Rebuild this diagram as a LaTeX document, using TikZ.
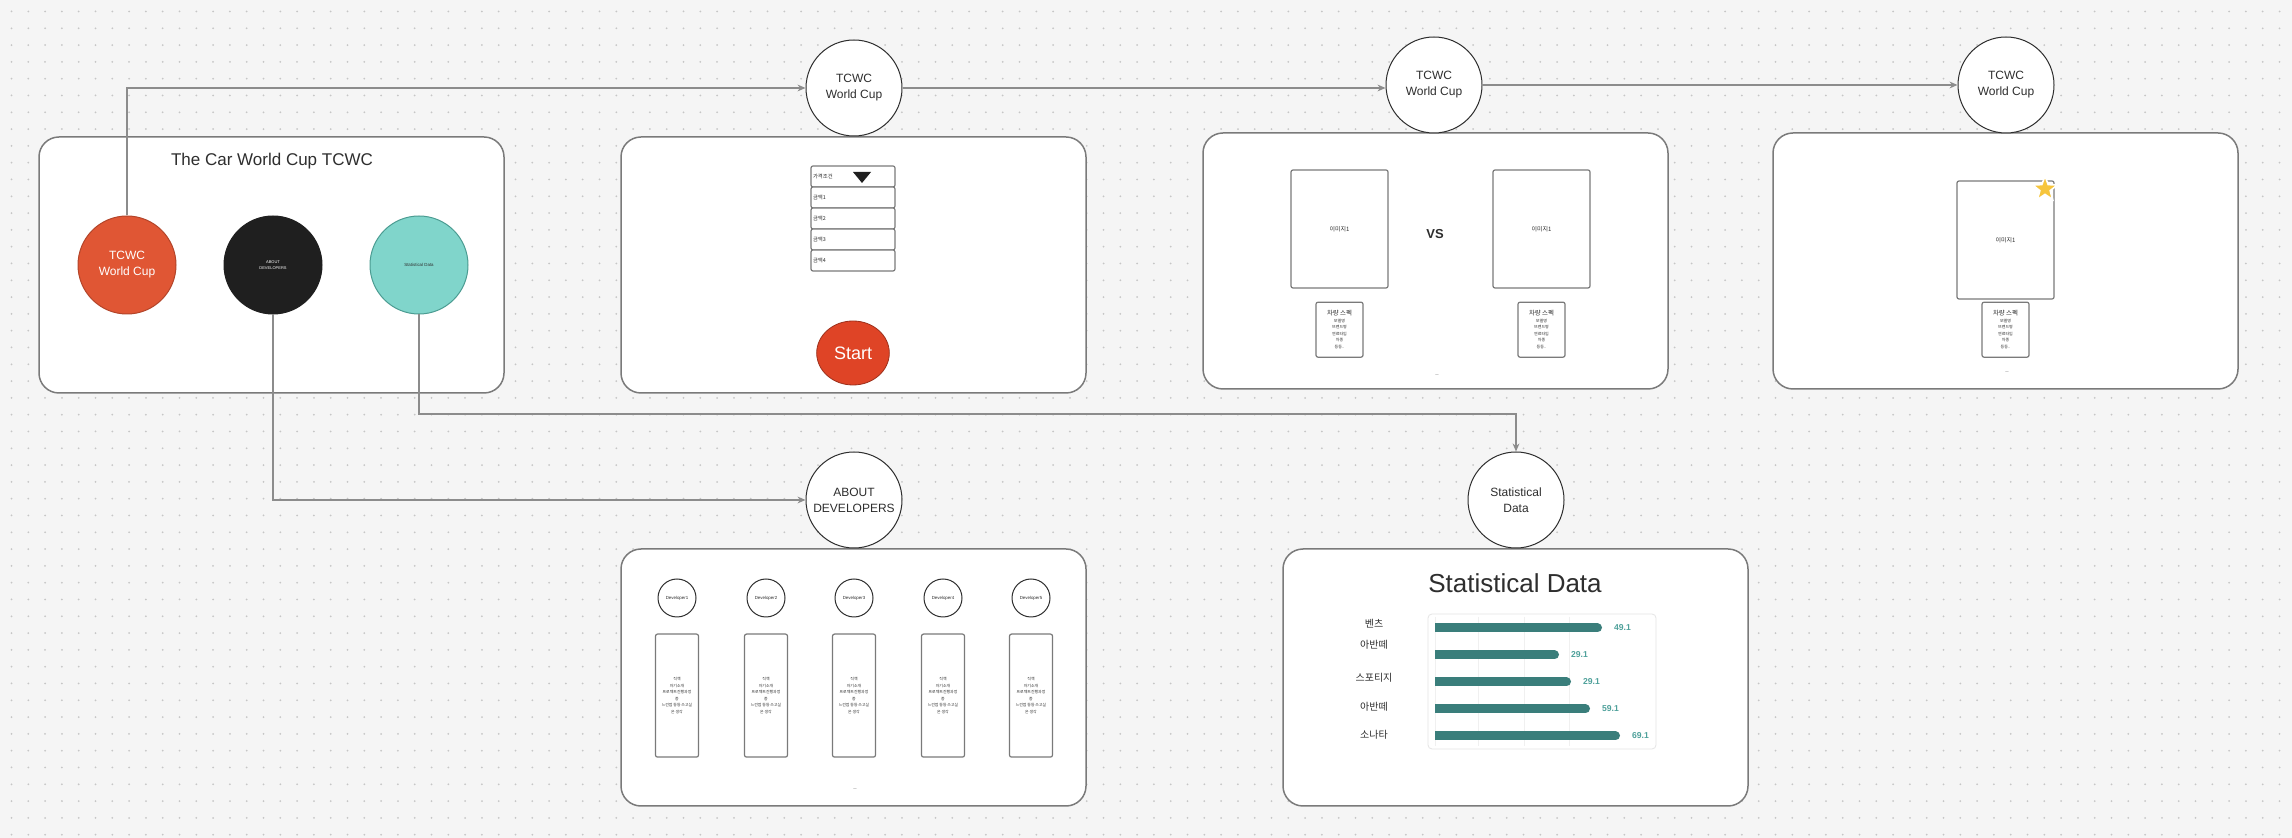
\documentclass[tikz,border=0pt]{standalone}
\usepackage{fontspec}
\setmainfont{Liberation Sans}
\newfontfamily\kr{Noto Sans CJK KR}
\usetikzlibrary{positioning,arrows.meta,shapes.geometric}

\definecolor{canvas}{HTML}{F5F5F5}
\definecolor{gridgray}{HTML}{C6C6C6}
\definecolor{edgegray}{HTML}{7A7A7A}
\definecolor{inkgray}{HTML}{2E2E2E}
\definecolor{tcwcred}{HTML}{E05634}
\definecolor{startred}{HTML}{DF4426}
\definecolor{mint}{HTML}{80D5CB}
\definecolor{mintedge}{HTML}{4B9C92}
\definecolor{nearblack}{HTML}{1F1F1F}
\definecolor{barteal}{HTML}{3A7E7B}
\definecolor{valteal}{HTML}{4FA19B}
\definecolor{stargold}{HTML}{F6C53D}

\newcommand{\carspec}{{\fontsize{3.2}{4.2}\selectfont 차량 스펙}\\모델명\\브랜드명\\연료타입\\차종\\등등..}
\newcommand{\devintro}{직책\\자기소개\\프로젝트진행과정\\중\\느낀점 등등 쓰고싶\\은 생각}

\tikzset{
  dotgrid/.style={draw=gridgray, line width=1pt, line cap=round, dash pattern=on 0pt off 8.4pt},
  panel/.style={draw=edgegray, line width=0.75pt, fill=white, rounded corners=10pt,
    minimum width=232.5pt, minimum height=128pt},
  pagecircle/.style={circle, draw=inkgray, fill=white, line width=0.5pt, minimum size=48pt,
    inner sep=0pt, align=center, text=inkgray, font=\fontsize{6}{8}\selectfont},
  menucircle/.style={circle, line width=0.5pt, minimum size=49pt, inner sep=0pt, align=center},
  link/.style={->, draw=black!45, line width=0.6pt},
  boxframe/.style={draw=edgegray, line width=0.6pt, fill=white, rounded corners=1pt, inner sep=0pt},
  optrow/.style={boxframe, minimum width=42pt, minimum height=10.5pt, text width=40pt,
    inner xsep=1pt, align=left, text=inkgray, font=\kr\fontsize{2.7}{3}\selectfont},
  imgbox/.style={boxframe, minimum width=48.5pt, minimum height=59pt, text=inkgray,
    font=\kr\fontsize{3}{4}\selectfont},
  specbox/.style={boxframe, minimum width=23.5pt, minimum height=27.5pt, align=center,
    text=inkgray, font=\kr\fontsize{2}{3.25}\selectfont},
  devcircle/.style={circle, draw=inkgray, fill=white, line width=0.5pt, minimum size=19pt,
    inner sep=0pt, text=inkgray, font=\fontsize{2.2}{3}\selectfont},
  devcard/.style={boxframe, minimum width=21.5pt, minimum height=61.5pt, align=center,
    text=inkgray, font=\kr\fontsize{1.95}{3.25}\selectfont},
  smallmark/.style={text=black!45, font=\fontsize{3}{3}\selectfont},
  databar/.style={draw=barteal, line width=4.5pt, line cap=round},
  barvalue/.style={anchor=west, text=valteal, font=\bfseries\fontsize{4.3}{5}\selectfont},
  carlabel/.style={text=inkgray, font=\kr\fontsize{5}{6}\selectfont}
}

\begin{document}
\begin{tikzpicture}[x=0.5pt, y=-0.5pt, >={Stealth[length=4pt,width=3.4pt]}]
  \useasboundingbox (0,0) rectangle (2292,838);
  \fill[canvas] (0,0) rectangle (2292,838);
  % dot grid
  \foreach \r in {0,...,49}
    \draw[dotgrid] (11.5,{11.5+16.8*\r}) -- (2292,{11.5+16.8*\r});

  % screens
  \node[panel] (home) at (271.5,265) {};
  \node[panel] (filter) at (853.5,265) {};
  \node[panel] (match) at (1435.5,261) {};
  \node[panel] (winner) at (2005.5,261) {};
  \node[panel, minimum height=128.5pt] (devpage) at (853.5,677.5) {};
  \node[panel, minimum height=128.5pt] (statpage) at (1515.5,677.5) {};

  % home screen
  \node[text=inkgray, font=\fontsize{8.5}{10}\selectfont] (hometitle) at (272,161) {The Car World Cup TCWC};
  \node[menucircle, fill=tcwcred, draw=tcwcred!80!black, text=white, font=\fontsize{6}{8}\selectfont] (wcbtn) at (127,265) {TCWC\\World Cup};
  \node[menucircle, fill=nearblack, draw=nearblack, text=white, font=\fontsize{2}{3}\selectfont, right=23.5pt of wcbtn] (devbtn) {ABOUT\\DEVELOPERS};
  \node[menucircle, fill=mint, draw=mintedge, text=inkgray, font=\fontsize{2.2}{3}\selectfont, right=23.5pt of devbtn] (statbtn) {Statistical Data};

  % page circles
  \node[pagecircle] (wc1) at (854,88) {TCWC\\World Cup};
  \node[pagecircle] (wc2) at (1434,85) {TCWC\\World Cup};
  \node[pagecircle] (wc3) at (2006,85) {TCWC\\World Cup};
  \node[pagecircle] (aboutdev) at (854,500) {ABOUT\\DEVELOPERS};
  \node[pagecircle] (statdata) at (1516,500) {Statistical\\Data};

  % filter screen
  \foreach \t [count=\i from 0] in {가격조건,금액1,금액2,금액3,금액4}
    \node[optrow] (opt\i) at (853,{176.5+21*\i}) {\t};
  \fill[nearblack] (853,172) -- (871,172) -- (862,183) -- cycle;
  \node[ellipse, fill=startred, draw=startred!70!black, line width=0.4pt, minimum width=35pt, minimum height=32pt,
    text=white, font=\fontsize{9}{10}\selectfont] (startbtn) at (853,353) {Start};

  % match screen
  \node[imgbox] (carA) at (1339.5,229) {이미지1};
  \node[imgbox] (carB) at (1541.5,229) {이미지1};
  \node[text=inkgray, font=\bfseries\fontsize{6.5}{8}\selectfont] (vs) at (1435,234) {VS};
  \node[specbox, below=6.5pt of carA] (specA) {\carspec};
  \node[specbox, below=6.5pt of carB] (specB) {\carspec};
  \node[smallmark] (matchnote) at (1437,376) {--};

  % winner screen
  \node[imgbox] (champ) at (2005.5,240) {이미지1};
  \node[star, star points=5, star point ratio=2.4, fill=stargold, draw=white, line width=0.8pt,
    minimum size=13pt, inner sep=0pt] (crown) at (2045,189) {};
  \node[specbox, below=1pt of champ] (specC) {\carspec};
  \node[smallmark] (winnernote) at (2007,373) {--};

  % developers screen
  \foreach \n [count=\i] in {677,766,854,943,1031} {
    \node[devcircle] (dev\i) at (\n,598) {Developer\i};
    \node[devcard, below=8pt of dev\i] (card\i) {\devintro};
  }
  \node[smallmark] (devnote) at (855,790) {--};

  % statistics screen
  \node[text=inkgray, font=\fontsize{13}{15}\selectfont] (stattitle) at (1515,583) {Statistical Data};
  \node[draw=black!10, fill=white, rounded corners=2pt, minimum width=114pt, minimum height=67.5pt] (chart) at (1542,681.5) {};
  \foreach \g in {1435,1478,1524,1569}
    \draw[black!6] (\g,617) -- (\g,746);
  \begin{scope}
    \clip (1435,600) rectangle (1700,760);
    \foreach \e/\y in {1602/628,1559/655,1571/682,1590/709,1620/736}
      \draw[databar] (1425,\y) -- ({\e-4.5},\y);
  \end{scope}
  \foreach \e/\y/\v in {1602/628/49.1,1559/655/29.1,1571/682/29.1,1590/709/59.1,1620/736/69.1}
    \node[barvalue] at ({\e+5},\y) {\v};
  \foreach \y/\car in {624/벤츠,645/아반떼,678/스포티지,707/아반떼,735/소나타}
    \node[carlabel] at (1374,\y) {\car};

  % connectors
  \draw[link] (wcbtn) |- (wc1);
  \draw[link] (wc1) -- (wc1 -| wc2.west);
  \draw[link] (wc2) -- (wc3);
  \draw[link] (devbtn) |- (aboutdev);
  \draw[link] (statbtn) -- ++(0,149) -| (statdata);
\end{tikzpicture}
\end{document}
